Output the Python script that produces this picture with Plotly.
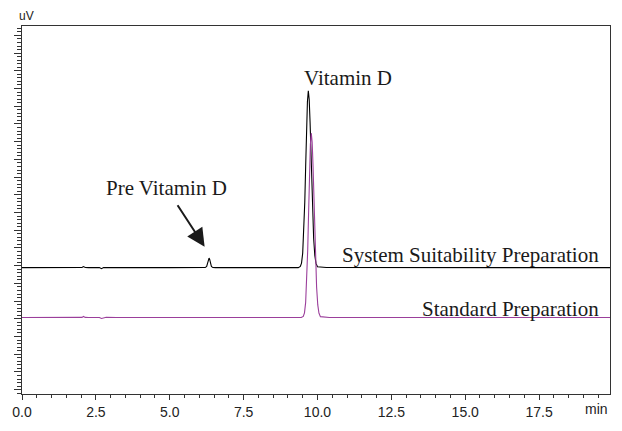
import plotly.graph_objects as go

# --- data (time in min, signal in uV) ---
time_ss = [0.0, 1.95, 2.03, 2.08, 2.14, 2.25, 2.62, 2.69, 2.76, 2.85, 3.2, 5.0,
           6.12, 6.20, 6.25, 6.29, 6.31, 6.33, 6.35, 6.37, 6.41, 6.46, 6.55,
           9.0, 9.35, 9.42, 9.46, 9.50, 9.54, 9.57, 9.60, 9.63, 9.66, 9.69,
           9.72, 9.75, 9.78, 9.81, 9.84, 9.87, 9.91, 9.95, 10.0, 10.1, 10.3, 19.9]
signal_ss = [48900, 48900, 48950, 49500, 49000, 48900, 48900, 48300, 48900, 49000, 48900, 48900,
             48900, 48930, 49630, 52180, 53670, 54300, 53670, 52180, 49630, 48930, 48900,
             48900, 48900, 49540, 51470, 57100, 69960, 85730, 105890, 126740, 142710, 148700,
             143810, 130640, 112590, 93830, 77580, 65480, 55730, 51260, 49390, 49150, 48950, 48900]

time_std = [0.0, 1.95, 2.03, 2.08, 2.14, 2.25, 2.62, 2.69, 2.76, 2.85, 3.2, 9.0,
            9.45, 9.52, 9.56, 9.60, 9.64, 9.67, 9.70, 9.73, 9.76, 9.79,
            9.82, 9.85, 9.88, 9.91, 9.94, 9.97, 10.01, 10.05, 10.10, 10.2, 10.4, 19.9]
signal_std = [20700, 20700, 20800, 21300, 20800, 20700, 20700, 20200, 20700, 20900, 20700, 20700,
              20700, 21370, 23380, 29260, 42670, 59110, 80140, 101900, 118550, 124800,
              119700, 105960, 87120, 67550, 50580, 37980, 27830, 23160, 21210, 20950, 20750, 20700]

x_tickvals = [0.0, 2.5, 5.0, 7.5, 10.0, 12.5, 15.0, 17.5]
x_ticktext = ["0.0", "2.5", "5.0", "7.5", "10.0", "12.5", "15.0", "17.5"]

fig = go.Figure()
fig.add_trace(go.Scatter(x=time_ss, y=signal_ss, mode="lines",
                         line=dict(color="#000000", width=1.1),
                         name="System Suitability Preparation"))
fig.add_trace(go.Scatter(x=time_std, y=signal_std, mode="lines",
                         line=dict(color="#9b3f9b", width=1.1),
                         name="Standard Preparation"))

serif = dict(family="Liberation Serif, Times New Roman, serif", size=21, color="#1a1a1a")
sans = "Liberation Sans, Arial, sans-serif"

annotations = [
    dict(x=11.04, y=156000, xref="x", yref="y", text="Vitamin D", showarrow=False,
         xanchor="center", yanchor="middle", font=serif),
    dict(x=4.875, y=93800, xref="x", yref="y", text="Pre Vitamin D", showarrow=False,
         xanchor="center", yanchor="middle", font=serif),
    dict(x=19.59, y=56300, xref="x", yref="y", text="System Suitability Preparation",
         showarrow=False, xanchor="right", yanchor="middle", font=serif),
    dict(x=19.59, y=25600, xref="x", yref="y", text="Standard Preparation",
         showarrow=False, xanchor="right", yanchor="middle", font=serif),
    dict(x=6.18, y=60700, xref="x", yref="y", text="", showarrow=True,
         ax=-28, ay=-43, arrowhead=2, arrowsize=1.8, arrowwidth=2, arrowcolor="#1a1a1a"),
    dict(x=-0.009, y=1.027, xref="paper", yref="paper", text="uV", showarrow=False,
         xanchor="left", yanchor="middle", font=dict(family=sans, size=12, color="#222")),
    dict(x=1.0, y=-0.0405, xref="paper", yref="paper", text="min", showarrow=False,
         xanchor="right", yanchor="middle", font=dict(family=sans, size=14, color="#222")),
]

fig.update_layout(
    width=622, height=431,
    margin=dict(l=22, r=11, t=26, b=23),
    plot_bgcolor="white", paper_bgcolor="white",
    showlegend=False,
    annotations=annotations,
    xaxis=dict(range=[0, 19.9], tickvals=x_tickvals, ticktext=x_ticktext,
               ticks="outside", ticklen=5, tickcolor="#333", tickwidth=1,
               showline=True, linecolor="#333", linewidth=1, mirror=True,
               showgrid=False, zeroline=False,
               tickfont=dict(family=sans, size=14, color="#222"),
               minor=dict(tick0=0, dtick=0.5, ticks="outside", ticklen=3, tickcolor="#333")),
    yaxis=dict(range=[-22450, 185300], tick0=0, dtick=10000,
               ticks="outside", ticklen=7, tickcolor="#333", tickwidth=1,
               showticklabels=False,
               showline=True, linecolor="#333", linewidth=1, mirror=True,
               showgrid=False, zeroline=False,
               minor=dict(tick0=0, dtick=2000, ticks="outside", ticklen=4, tickcolor="#333")),
)

fig.write_html("out.html")
